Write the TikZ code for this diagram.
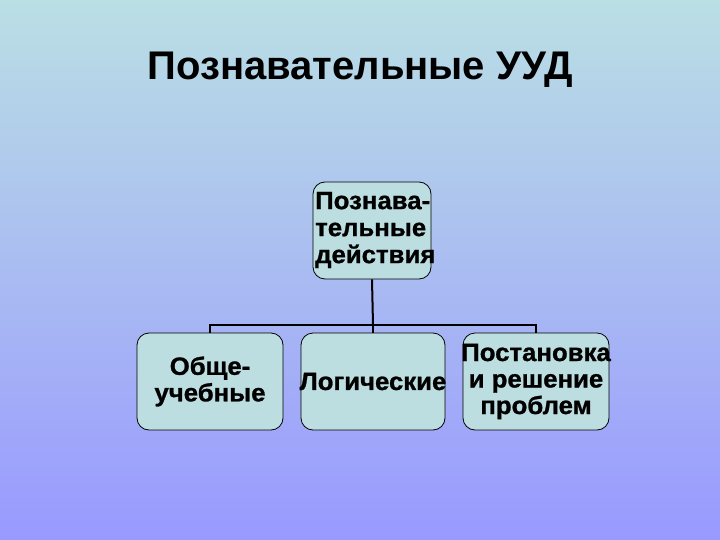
\documentclass[tikz,border=0pt]{standalone}
\usepackage{fontspec}
\setmainfont{Liberation Sans}
\newfontfamily\boxfont[FakeStretch=1.03,FakeBold=1]{Liberation Sans Bold}
\definecolor{bgtop}{HTML}{BADFE4}
\definecolor{bgbot}{HTML}{9999FF}
\definecolor{boxfill}{HTML}{BCDEE0}
\tikzset{
  ubox/.style={draw=black, line width=0.8pt, fill=boxfill, rounded corners=12pt, inner sep=0pt, minimum height=97pt},
  utext/.style={inner sep=0pt, font=\boxfont\fontsize{25}{26.5}\selectfont, align=center},
  conn/.style={draw=black, line width=2pt}
}
\begin{document}
\begin{tikzpicture}[x=1pt,y=-1pt]
\useasboundingbox (0,0) rectangle (720,540);
\shade[top color=bgtop, bottom color=bgbot] (0,0) rectangle (720,540);
\node[font=\bfseries\fontsize{40}{44}\selectfont] (title) at (360,70) {Познавательные УУД};
\node[ubox, minimum width=118pt] (top) at (372,230.5) {};
\node[utext, font=\boxfont\fontsize{25}{27}\selectfont, align=left, anchor=west] (toptext) at (315,230) {Познава-\\тельные\\действия};
\node[ubox, minimum width=146pt] (b1) at (210,381.5) {};
\node[utext] (b1t) at (b1) {Обще-\\учебные};
\node[ubox, minimum width=144pt] (b2) at (373,381.5) {};
\node[utext] (b2t) at (b2) {Логические};
\node[ubox, minimum width=146pt] (b3) at (536,381.5) {};
\node[utext] (b3t) at (b3) {Постановка\\и решение\\проблем};
\coordinate (hub) at (373,325);
\draw[conn] (top.south) -- (hub);
\draw[conn] (b1.north) |- (hub) -| (b3.north);
\draw[conn] (hub) -- (b2.north);
\end{tikzpicture}
\end{document}
